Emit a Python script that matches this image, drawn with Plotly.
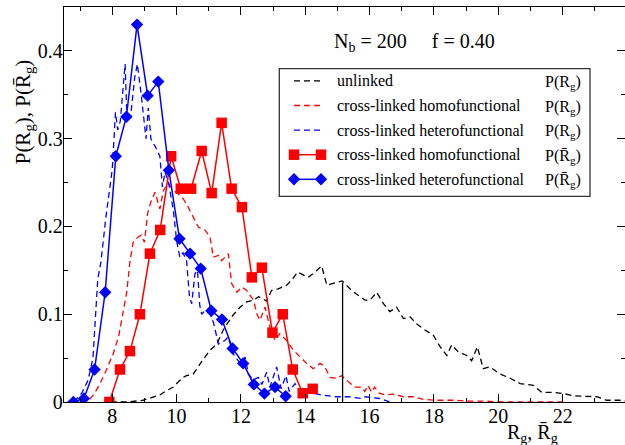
import plotly.graph_objects as go

# ---------------- data ----------------
# unlinked P(Rg) (black dashed)
unl_x = [7.95, 8.5, 8.96, 9.33, 9.48, 9.69, 9.9, 10.0, 10.2, 10.31, 10.52, 10.78, 11.04, 11.25, 11.45,
         11.71, 11.97, 12.18, 12.39, 12.55, 12.64, 12.8, 12.95, 13.16, 13.42, 13.58, 13.76, 13.96, 14.09,
         14.3, 14.51, 14.67, 14.87, 15.15, 15.44, 15.65, 15.86, 16.01, 16.22, 16.43, 16.63, 16.84, 17.05,
         17.26, 17.46, 17.72, 17.98, 18.19, 18.4, 18.55, 18.76, 19.02, 19.17, 19.35, 19.53, 19.74, 20.05,
         20.37, 20.68, 21.09, 21.35, 21.71, 22.03, 22.34, 22.75, 23.06, 23.37, 23.79, 24.0]
unl_y = [0.0, 0.0, 0.002, 0.006, 0.008, 0.013, 0.017, 0.021, 0.028, 0.03, 0.032, 0.046, 0.059, 0.066, 0.082,
         0.097, 0.108, 0.114, 0.116, 0.12, 0.118, 0.115, 0.127, 0.129, 0.133, 0.139, 0.148, 0.144, 0.142,
         0.148, 0.155, 0.133, 0.135, 0.138, 0.127, 0.122, 0.116, 0.116, 0.125, 0.112, 0.103, 0.108, 0.095,
         0.097, 0.089, 0.082, 0.076, 0.063, 0.053, 0.065, 0.057, 0.053, 0.047, 0.063, 0.038, 0.040, 0.032,
         0.027, 0.021, 0.019, 0.011, 0.011, 0.0096, 0.007, 0.006, 0.006, 0.002, 0.002, 0.001]

# cross-linked homofunctional P(Rg) (red dashed)
homo_x = [7.3, 7.45, 7.62, 7.8, 8.03, 8.2, 8.35, 8.45, 8.55, 8.65, 8.8, 8.9, 9.0, 9.1, 9.2, 9.33, 9.48,
          9.59, 9.74, 9.9, 10.05, 10.2, 10.36, 10.52, 10.68, 10.88, 11.04, 11.14, 11.3, 11.4, 11.61, 11.71,
          11.87, 12.03, 12.18, 12.39, 12.5, 12.59, 12.75, 12.9, 13.06, 13.21, 13.42, 13.63, 13.84, 14.04,
          14.25, 14.46, 14.61, 14.77, 14.98, 15.13, 15.34, 15.55, 15.75, 15.85, 15.95, 16.06, 16.15, 16.3,
          16.5, 16.74, 17.05, 17.36, 17.67, 18.08, 18.6, 19.1, 19.6, 20.1, 21.0, 22.0]
homo_y = [0.003, 0.01, 0.021, 0.035, 0.055, 0.075, 0.105, 0.125, 0.16, 0.182, 0.188, 0.19, 0.182, 0.215,
          0.228, 0.239, 0.22, 0.241, 0.249, 0.241, 0.237, 0.232, 0.222, 0.211, 0.199, 0.196, 0.188, 0.165,
          0.167, 0.161, 0.169, 0.135, 0.125, 0.131, 0.127, 0.116, 0.1, 0.093, 0.108, 0.085, 0.07, 0.078,
          0.07, 0.059, 0.051, 0.044, 0.038, 0.044, 0.04, 0.028, 0.027, 0.03, 0.023, 0.017, 0.017, 0.012,
          0.019, 0.011, 0.017, 0.01, 0.008, 0.009, 0.006, 0.006, 0.003, 0.002, 0.002, 0.001, 0.001, 0.0,
          0.0, 0.0]

# cross-linked heterofunctional P(Rg) (blue dashed)
het_x = [6.81, 7.05, 7.25, 7.4, 7.55, 7.65, 7.8, 8.0, 8.1, 8.17, 8.25, 8.4, 8.45, 8.57, 8.7, 8.78, 8.9,
         9.05, 9.12, 9.2, 9.35, 9.48, 9.56, 9.64, 9.75, 9.9, 10.0, 10.1, 10.2, 10.31, 10.4, 10.47, 10.57,
         10.65, 10.72, 10.78, 10.88, 11.04, 11.15, 11.3, 11.5, 11.6, 11.76, 11.97, 12.13, 12.23, 12.38,
         12.54, 12.65, 12.8, 12.9, 13.11, 13.25, 13.4, 13.5, 13.68, 13.89, 14.1, 14.25, 14.51, 14.92,
         15.34, 15.75, 15.86, 16.32, 16.63]
het_y = [0.0, 0.01, 0.025, 0.05, 0.14, 0.16, 0.21, 0.265, 0.33, 0.31, 0.32, 0.385, 0.33, 0.325, 0.37,
         0.385, 0.35, 0.3, 0.335, 0.3, 0.29, 0.28, 0.245, 0.262, 0.25, 0.218, 0.184, 0.165, 0.17, 0.161,
         0.12, 0.112, 0.146, 0.15, 0.11, 0.1, 0.104, 0.1, 0.09, 0.066, 0.07, 0.074, 0.055, 0.044, 0.051,
         0.032, 0.025, 0.028, 0.02, 0.034, 0.017, 0.04, 0.015, 0.03, 0.012, 0.021, 0.01, 0.012, 0.01,
         0.008, 0.006, 0.006, 0.004, 0.006, 0.004, 0.0]

# cross-linked homofunctional P(Rg-bar) (red squares)
sq_x = [7.91, 8.24, 8.55, 8.86, 9.17, 9.49, 9.83, 10.13, 10.45, 10.78, 11.09, 11.4, 11.71, 12.03, 12.34,
        12.65, 12.98, 13.3, 13.61, 13.92, 14.23]
sq_y = [0.0, 0.037, 0.058, 0.1, 0.169, 0.196, 0.28, 0.243, 0.243, 0.286, 0.238, 0.318, 0.243, 0.222,
        0.142, 0.153, 0.079, 0.1, 0.037, 0.010, 0.015]

# cross-linked heterofunctional P(Rg-bar) (blue diamonds)
dm_x = [6.79, 7.12, 7.45, 7.78, 8.11, 8.44, 8.77, 9.1, 9.43, 9.76, 10.09, 10.42, 10.75, 11.08, 11.41,
        11.74, 12.07, 12.4, 12.73, 13.06, 13.39]
dm_y = [0.0, 0.004, 0.037, 0.125, 0.28, 0.325, 0.43, 0.349, 0.365, 0.264, 0.186, 0.169, 0.152, 0.104,
        0.094, 0.061, 0.044, 0.02, 0.0096, 0.017, 0.0065]

# mean Rg of the unlinked chains (vertical marker)
mean_rg = [15.16, 15.16]
mean_p = [0.0, 0.136]

legend_names = ["unlinked", "cross-linked homofunctional", "cross-linked heterofunctional",
                "cross-linked homofunctional", "cross-linked heterofunctional"]
legend_funcs = ["P(R<sub>g</sub>)", "P(R<sub>g</sub>)", "P(R<sub>g</sub>)",
                "P(R\u0304<sub>g</sub>)", "P(R\u0304<sub>g</sub>)"]

x_ticks = [8, 10, 12, 14, 16, 18, 20, 22]
y_ticks = [0, 0.1, 0.2, 0.3, 0.4]

# ---------------- layout geometry ----------------
W, H = 625, 445
ML, MR, MT, MB = 64, 0, 6.7, 43.3
PW, PH = W - ML - MR, H - MT - MB
PX_PER_UNIT = 32.17
X_RANGE = [6.5, 6.5 + PW / PX_PER_UNIT]
Y_RANGE = [0, 0.45]

FONT = "Liberation Serif"
RED, BLUE, BLACK = "#ff0000", "#0000ff", "#000000"
DASH = "6px,4px"


def px(xp, yp):
    return (xp - ML) / PW, (H - MB - yp) / PH


fig = go.Figure()

fig.add_trace(go.Scatter(x=unl_x, y=unl_y, mode="lines",
                         line=dict(color=BLACK, width=1.3, dash=DASH), showlegend=False))
fig.add_trace(go.Scatter(x=homo_x, y=homo_y, mode="lines",
                         line=dict(color=RED, width=1.3, dash=DASH), showlegend=False))
fig.add_trace(go.Scatter(x=het_x, y=het_y, mode="lines",
                         line=dict(color=BLUE, width=1.3, dash=DASH), showlegend=False))
fig.add_trace(go.Scatter(x=mean_rg, y=mean_p, mode="lines",
                         line=dict(color=BLACK, width=1.3), showlegend=False))
fig.add_trace(go.Scatter(x=sq_x, y=sq_y, mode="lines+markers",
                         line=dict(color=RED, width=1.5),
                         marker=dict(symbol="square", size=10.5, color=RED, line=dict(width=0)),
                         showlegend=False))
fig.add_trace(go.Scatter(x=dm_x, y=dm_y, mode="lines+markers",
                         line=dict(color=BLUE, width=1.5),
                         marker=dict(symbol="diamond", size=9.5, color=BLUE, line=dict(width=0)),
                         showlegend=False))

# ---------------- hand-made legend (samples on an overlay paper-like axis) ----------------
row_y = [80.6, 105.2, 129.8, 154.4, 179.0]
samp_x0, samp_x1 = 294, 321
styles = [
    dict(mode="lines", line=dict(color=BLACK, width=1.3, dash=DASH)),
    dict(mode="lines", line=dict(color=RED, width=1.3, dash=DASH)),
    dict(mode="lines", line=dict(color=BLUE, width=1.3, dash=DASH)),
    dict(mode="lines+markers", line=dict(color=RED, width=1.5),
         marker=dict(symbol="square", size=10.5, color=RED, line=dict(width=0))),
    dict(mode="lines+markers", line=dict(color=BLUE, width=1.5),
         marker=dict(symbol="diamond", size=9.5, color=BLUE, line=dict(width=0))),
]
for ry, st in zip(row_y, styles):
    a = px(samp_x0, ry)
    b = px(samp_x1, ry)
    fig.add_trace(go.Scatter(x=[a[0], b[0]], y=[a[1], b[1]], xaxis="x2", yaxis="y2",
                             showlegend=False, hoverinfo="skip", **st))

annotations = []
for ry, name, func in zip(row_y, legend_names, legend_funcs):
    ax_, ay_ = px(335, ry)
    annotations.append(dict(text=name, x=ax_, y=ay_, xref="paper", yref="paper",
                            xanchor="left", yanchor="middle", showarrow=False,
                            font=dict(family=FONT, size=16, color=BLACK)))
    bx_, by_ = px(543, ry + 1.5)
    annotations.append(dict(text=func, x=bx_, y=by_, xref="paper", yref="paper",
                            xanchor="left", yanchor="middle", showarrow=False,
                            font=dict(family=FONT, size=16, color=BLACK)))

# title annotation
tx, ty = px(414, 42)
annotations.append(dict(text="N<sub>b</sub> = 200\u00a0\u00a0\u00a0\u00a0 f = 0.40", x=tx, y=ty,
                        xref="paper", yref="paper", xanchor="center", yanchor="middle",
                        showarrow=False, font=dict(family=FONT, size=20, color=BLACK)))
# y-axis title
yx, yy = px(24, 112)
annotations.append(dict(text="P(R<sub>g</sub>), P(R\u0304<sub>g</sub>)", x=yx, y=yy,
                        xref="paper", yref="paper", xanchor="center", yanchor="middle",
                        textangle=-90, showarrow=False,
                        font=dict(family=FONT, size=21, color=BLACK)))
# x-axis title
xx, xy = px(532, 433.5)
annotations.append(dict(text="R<sub>g</sub>, R\u0304<sub>g</sub>", x=xx, y=xy,
                        xref="paper", yref="paper", xanchor="center", yanchor="middle",
                        showarrow=False, font=dict(family=FONT, size=20, color=BLACK)))

lb0 = px(279.3, 196)
lb1 = px(590, 68.3)
shapes = [dict(type="rect", xref="paper", yref="paper", x0=lb0[0], y0=lb0[1], x1=lb1[0], y1=lb1[1],
               line=dict(color="#333333", width=1.3), fillcolor="rgba(0,0,0,0)", layer="below")]

axis_common = dict(showline=True, linecolor=BLACK, linewidth=1.3, mirror="allticks",
                   ticks="inside", ticklen=8, tickwidth=1.2, tickcolor=BLACK,
                   showgrid=False, zeroline=False, ticklabelstandoff=-4,
                   tickfont=dict(family=FONT, size=20, color=BLACK))

fig.update_layout(
    width=W, height=H,
    margin=dict(l=ML, r=MR, t=MT, b=MB, pad=0),
    paper_bgcolor="white", plot_bgcolor="white",
    showlegend=False,
    xaxis=dict(range=X_RANGE, tickvals=x_ticks, ticktext=[str(v) for v in x_ticks],
               minor=dict(ticks="inside", ticklen=4, dtick=1, tick0=0, tickcolor=BLACK, tickwidth=1.2),
               **axis_common),
    yaxis=dict(range=Y_RANGE, tickvals=y_ticks, ticktext=["0", "0.1", "0.2", "0.3", "0.4"],
               minor=dict(ticks="inside", ticklen=4, dtick=0.05, tick0=0, tickcolor=BLACK, tickwidth=1.2),
               **axis_common),
    xaxis2=dict(overlaying="x", range=[0, 1], visible=False, fixedrange=True),
    yaxis2=dict(overlaying="y", range=[0, 1], visible=False, fixedrange=True),
    annotations=annotations,
    shapes=shapes,
)

fig.write_html("out.html")
